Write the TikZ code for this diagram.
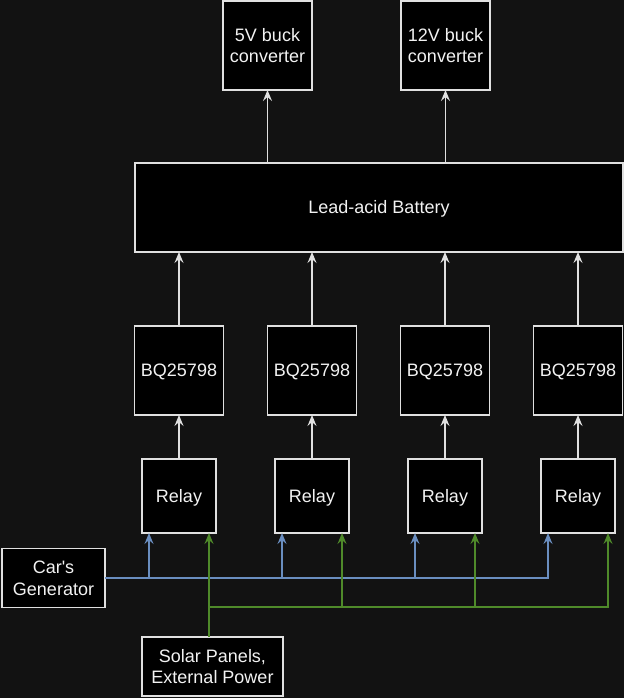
\documentclass[tikz,border=0pt]{standalone}
\usepackage{fontspec}
\setmainfont{Liberation Sans}
\usetikzlibrary{arrows.meta,calc}
\definecolor{bgc}{HTML}{121212}
\definecolor{edgec}{HTML}{E0E0E0}
\definecolor{txtc}{HTML}{F2F2F2}
\definecolor{bluec}{HTML}{6A8EC0}
\definecolor{greenc}{HTML}{4F8A2A}
\begin{document}
\begin{tikzpicture}[x=1pt,y=-1pt,
  blk/.style={draw=edgec,fill=black,line width=1.6pt,inner sep=0pt,outer sep=0pt,
    text=txtc,align=center,font=\fontsize{18}{21.7}\selectfont},
  oneline/.style={text height=12.9pt,text depth=0pt},
  wire/.style={line width=1.6pt,draw=#1,-{Stealth[length=11pt,width=9pt,inset=4pt]}}]
\fill[bgc] (0,0) rectangle (624,698);
\useasboundingbox (0,0) rectangle (624,698);
% top converters
\node[blk,minimum width=89pt,minimum height=89pt] (b5) at (267.5,45.5) {5V buck\\converter};
\node[blk,minimum width=89pt,minimum height=89pt] (b12) at (445.5,45.5) {12V buck\\converter};
% battery
\node[blk,oneline,minimum width=488pt,minimum height=89pt] (bat) at (379,207.5) {Lead-acid Battery};
% chargers
\foreach \i/\x in {1/179,2/312,3/445,4/578}{
  \node[blk,oneline,minimum width=89pt,minimum height=89pt] (q\i) at (\x,370.5) {BQ25798};
}
% relays
\foreach \i/\x in {1/179,2/312,3/445,4/578}{
  \node[blk,oneline,minimum width=74pt,minimum height=74pt] (r\i) at (\x,496) {Relay};
}
% sources
\node[blk,minimum width=103pt,minimum height=59pt] (gen) at (53.5,578) {Car\textquotesingle s\\Generator};
\node[blk,minimum width=141pt,minimum height=59pt] (sol) at (212.5,666.5) {Solar Panels,\\External Power};
% battery to converters
\draw[wire=edgec] (b5.south |- bat.north) -- (b5.south);
\draw[wire=edgec] (b12.south |- bat.north) -- (b12.south);
% chargers to battery, relays to chargers
\foreach \i in {1,2,3,4}{
  \draw[wire=edgec] (q\i.north) -- (q\i.north |- bat.south);
  \draw[wire=edgec] (r\i.north) -- (r\i.north |- q\i.south);
  \coordinate (bl\i) at ($(r\i.south)+(-30,0)$);
  \coordinate (gr\i) at ($(r\i.south)+(30,0)$);
}
% generator (blue)
\foreach \i in {1,2,3,4}{
  \draw[wire=bluec] (gen.east) -| (bl\i);
}
% solar (green)
\coordinate (sj) at (sol.north -| gr1);
\coordinate (gj) at ($(sj)+(0,-30)$);
\draw[wire=greenc] (sj) -- (gr1);
\foreach \i in {2,3,4}{
  \draw[wire=greenc] (gj) -| (gr\i);
}
\end{tikzpicture}
\end{document}
